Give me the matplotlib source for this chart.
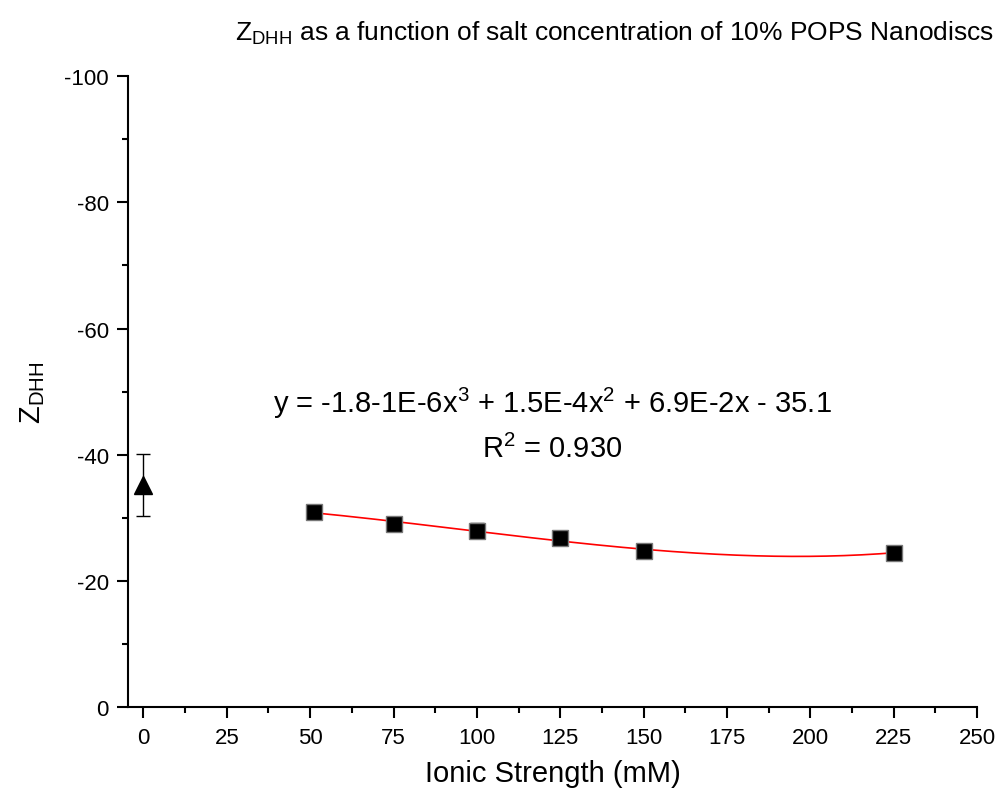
import matplotlib
matplotlib.use('Agg')
import matplotlib.pyplot as plt
from matplotlib.ticker import MultipleLocator
import numpy as np

plt.rcParams['font.family'] = ['Liberation Sans', 'DejaVu Sans']
plt.rcParams['mathtext.fontset'] = 'custom'
plt.rcParams['mathtext.rm'] = 'Liberation Sans'
plt.rcParams['axes.unicode_minus'] = False

##### data #####
ionic_strength = [51, 75, 100, 125, 150, 225]
z_dhh = [-31.0, -29.0, -28.0, -26.8, -24.7, -24.5]
z_err = [1.0, 1.0, 1.2, 0.9, 0.5, 0.5]

ref_x = [0]
ref_z = [-35.2]
ref_err = [4.9]

fit_label = r'y = -1.8-1E-6x$^3$ + 1.5E-4x$^2$ + 6.9E-2x - 35.1'
r2_label = r'R$^2$ = 0.930'

##### fit #####
coef = np.polyfit(ionic_strength, z_dhh, 3)
x_fit = np.linspace(min(ionic_strength), max(ionic_strength), 200)
y_fit = np.polyval(coef, x_fit)

##### plot #####
fig = plt.figure(figsize=(10.01, 8.03), dpi=100)
ax = fig.add_axes([0.128, 0.118, 0.848, 0.786])

ax.plot(x_fit, y_fit, color='red', lw=1.2, zorder=2)
ax.errorbar(ionic_strength, z_dhh, yerr=z_err, fmt='s', ms=11, color='black',
            mec='#777777', mew=1, ecolor='black', elinewidth=1, capsize=5, zorder=3)
ax.errorbar(ref_x, ref_z, yerr=ref_err, fmt='^', ms=13, color='black',
            ecolor='black', elinewidth=1, capsize=5, zorder=3)

ax.set_xlim(-4.6, 250)
ax.set_ylim(0, -100)
ax.xaxis.set_major_locator(MultipleLocator(25))
ax.xaxis.set_minor_locator(MultipleLocator(12.5))
ax.yaxis.set_major_locator(MultipleLocator(20))
ax.yaxis.set_minor_locator(MultipleLocator(10))

for s in ['top', 'right']:
    ax.spines[s].set_visible(False)
for s in ['left', 'bottom']:
    ax.spines[s].set_linewidth(1.5)

ax.tick_params(which='major', direction='out', length=8, width=1.5, labelsize=16, pad=6)
ax.tick_params(which='minor', direction='out', length=4, width=1.5)

ax.set_xlabel('Ionic Strength (mM)', fontsize=21, labelpad=8)
ax.set_ylabel(r'Z$_{\mathregular{DHH}}$', fontsize=21, labelpad=12)

ax.text(0.5, 0.483, fit_label, transform=ax.transAxes, fontsize=21, ha='center', va='center')
ax.text(0.5, 0.41, r2_label, transform=ax.transAxes, fontsize=21, ha='center', va='center')

fig.text(0.993, 0.958, r'Z$_{\mathregular{DHH}}$ as a function of salt concentration of 10% POPS Nanodiscs',
         fontsize=19, ha='right', va='center')

fig.savefig('out.png', dpi=100)
